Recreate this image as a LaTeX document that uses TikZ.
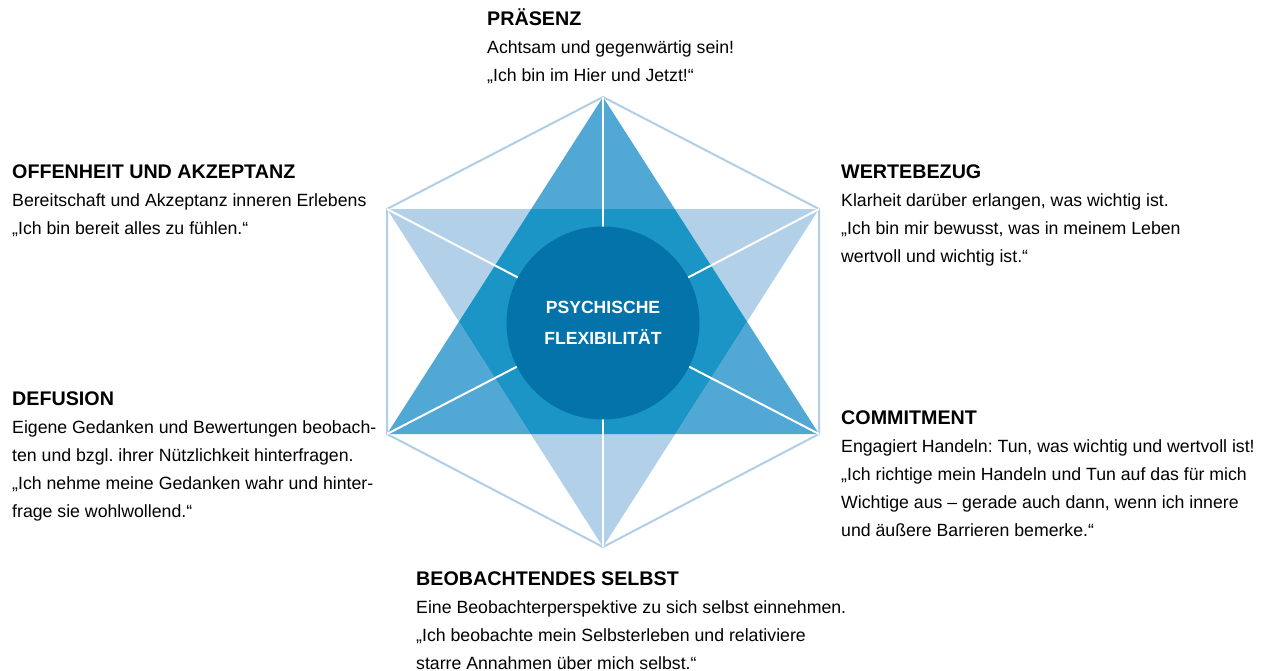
\documentclass[tikz,border=0pt]{standalone}
\usepackage{fontspec}
\setmainfont{Liberation Sans}
\frenchspacing

\definecolor{triup}{RGB}{82,168,212}
\definecolor{tridown}{RGB}{178,209,232}
\definecolor{overlap}{RGB}{26,149,197}
\definecolor{hub}{RGB}{3,115,170}
\definecolor{hexline}{RGB}{176,206,232}

\newcommand{\hd}[1]{{\fontsize{19.7}{28}\selectfont\bfseries #1}}

\begin{document}
\begin{tikzpicture}[x=1pt, y=-1pt,
      txt/.style={anchor=base west, align=left, inner sep=0pt,
        font=\fontsize{17.7}{28}\selectfont},
      spoke/.style={draw=white, line width=2pt}
    ]
    \useasboundingbox (0,0) rectangle (1265,671);

    % Hexagon corners and centre
    \coordinate (T) at (603,97);
    \coordinate (UL) at (387,209);
    \coordinate (UR) at (819,209);
    \coordinate (LL) at (387,434);
    \coordinate (LR) at (819,434);
    \coordinate (B) at (603,547);
    \coordinate (M) at (603,322);

    % Two triangles and their overlap
    \fill[triup] (T) -- (LR) -- (LL) -- cycle;
    \fill[tridown] (UL) -- (UR) -- (B) -- cycle;
    \begin{scope}
      \clip (T) -- (LR) -- (LL) -- cycle;
      \fill[overlap] (UL) -- (UR) -- (B) -- cycle;
    \end{scope}

    % Outer hexagon
    \draw[hexline, line width=2pt, line join=round]
      (T) -- (UR) -- (LR) -- (B) -- (LL) -- (UL) -- cycle;

    % Spokes from the hub to the corners
    \foreach \v in {T,UR,LR,B,LL,UL} {
      \draw[spoke] (M) -- (\v);
    }

    % Central hub
    \node[circle, fill=hub, minimum size=193pt, inner sep=0pt, text=white,
      align=center, font=\fontsize{17.6}{31}\selectfont\bfseries] (C) at (603,323)
      {PSYCHISCHE\\FLEXIBILITÄT};

    % Texts round the star (placed at the baseline of the last line)
    \node[txt] (praesenz) at (487,82) {\hd{PRÄSENZ}\\
      Achtsam und gegenwärtig sein!\\
      „Ich bin im Hier und Jetzt!“};
    \node[txt] (offenheit) at (12,234) {\hd{OFFENHEIT UND AKZEPTANZ}\\
      Bereitschaft und Akzeptanz inneren Erlebens\\
      „Ich bin bereit alles zu fühlen.“};
    \node[txt] (werte) at (841,262) {\hd{WERTEBEZUG}\\
      Klarheit darüber erlangen, was wichtig ist.\\
      „Ich bin mir bewusst, was in meinem Leben\\
      wertvoll und wichtig ist.“};
    \node[txt] (defusion) at (12,517) {\hd{DEFUSION}\\
      Eigene Gedanken und Bewertungen beobach-\\
      ten und bzgl. ihrer Nützlichkeit hinterfragen.\\
      „Ich nehme meine Gedanken wahr und hinter-\\
      frage sie wohlwollend.“};
    \node[txt] (commitment) at (841,536) {\hd{COMMITMENT}\\
      Engagiert Handeln: Tun, was wichtig und wertvoll ist!\\
      „Ich richtige mein Handeln und Tun auf das für mich\\
      Wichtige aus – gerade auch dann, wenn ich innere\\
      und äußere Barrieren bemerke.“};
    \node[txt] (selbst) at (416,669) {\hd{BEOBACHTENDES SELBST}\\
      Eine Beobachterperspektive zu sich selbst einnehmen.\\
      „Ich beobachte mein Selbsterleben und relativiere\\
      starre Annahmen über mich selbst.“};

\end{tikzpicture}
\end{document}
